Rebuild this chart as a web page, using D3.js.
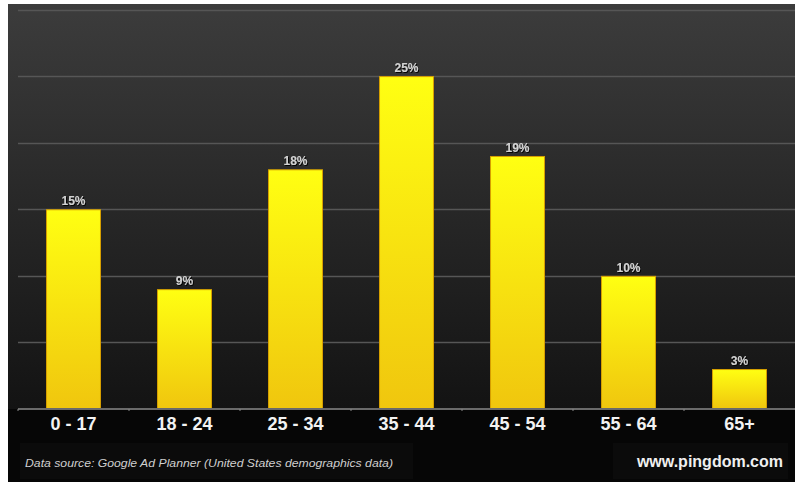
<!DOCTYPE html>
<html><head><meta charset="utf-8">
<script src="https://cdn.jsdelivr.net/npm/d3@7"></script>
<style>html,body{margin:0;padding:0;background:#fff;}svg{display:block;}</style>
</head><body>
<script>
const categories = ["0 - 17","18 - 24","25 - 34","35 - 44","45 - 54","55 - 64","65+"];
const values = [15, 9, 18, 25, 19, 10, 3];
const gridTicks = [0, 5, 10, 15, 20, 25, 30];
const sourceText = "Data source: Google Ad Planner (United States demographics data)";
const brandText = "www.pingdom.com";

const W = 795, H = 482;
const svg = d3.select("body").append("svg").attr("width", W).attr("height", H);
const defs = svg.append("defs");

const bg = defs.append("linearGradient").attr("id","bg").attr("x1",0).attr("y1",0).attr("x2",0).attr("y2",1);
bg.append("stop").attr("offset","0%").attr("stop-color","#3c3c3c");
bg.append("stop").attr("offset","100%").attr("stop-color","#131313");

const bar = defs.append("linearGradient").attr("id","bar").attr("x1",0).attr("y1",0).attr("x2",0).attr("y2",1);
bar.append("stop").attr("offset","0%").attr("stop-color","#ffff12");
bar.append("stop").attr("offset","100%").attr("stop-color","#f0c60e");

const sh = defs.append("filter").attr("id","sh").attr("x","-20%").attr("y","-20%").attr("width","140%").attr("height","140%");
sh.append("feDropShadow").attr("dx",1).attr("dy",1).attr("stdDeviation",0.6).attr("flood-color","#000").attr("flood-opacity",0.9);

const x = d3.scaleBand().domain(categories).range([18, 795]).paddingInner(0.505).paddingOuter(0.2525);
const y = d3.scaleLinear().domain([0, 30]).range([409, 9.5]);

// backgrounds
svg.append("rect").attr("x",8).attr("y",4).attr("width",W-8).attr("height",y(0)-4).attr("fill","url(#bg)");
svg.append("rect").attr("x",8).attr("y",y(0)).attr("width",W-8).attr("height",H-y(0)).attr("fill","#060606");
// footer panels
svg.append("rect").attr("x",20).attr("y",443).attr("width",393).attr("height",36).attr("fill","#0b0b0b");
svg.append("rect").attr("x",613).attr("y",443).attr("width",175).attr("height",36).attr("fill","#0b0b0b");

// gridlines
svg.append("g").selectAll("line").data(gridTicks.filter(d=>d>0)).join("line")
  .attr("x1",18).attr("x2",W).attr("y1",d=>Math.round(y(d))+0.5).attr("y2",d=>Math.round(y(d))+0.5)
  .attr("stroke","#565656").attr("stroke-width",1.5);

// bars
svg.append("g").selectAll("rect").data(values).join("rect")
  .attr("x",(d,i)=>x(categories[i])+0.5)
  .attr("y",d=>y(d)+0.5)
  .attr("width",x.bandwidth()-1)
  .attr("height",d=>y(0)-y(d)-1)
  .attr("fill","url(#bar)")
  .attr("stroke","#d8a000").attr("stroke-width",1);

// value labels
svg.append("g").selectAll("text").data(values).join("text")
  .attr("x",(d,i)=>x(categories[i])+x.bandwidth()/2)
  .attr("y",d=>y(d)-4)
  .attr("text-anchor","middle")
  .attr("font-family","Liberation Sans, Arial, sans-serif")
  .attr("font-weight","bold").attr("font-size",12)
  .attr("fill","#d2d2d2").attr("filter","url(#sh)")
  .text(d=>d+"%");

// axis baseline
const axis = d3.axisBottom(x).tickSize(0).tickPadding(0);
const ax = svg.append("g").attr("transform",`translate(0,${y(0)})`).call(axis);
ax.select(".domain").attr("stroke","#6a6a6a").attr("stroke-width",2).attr("d","M18,0H795");
ax.selectAll(".tick text")
  .attr("y",21).attr("dy",0)
  .attr("font-family","Liberation Sans, Arial, sans-serif")
  .attr("font-weight","bold").attr("font-size",18)
  .attr("fill","#f2f2f2");
// small tick marks at band boundaries
svg.append("g").selectAll("line").data(categories).join("line")
  .attr("x1",d=>x(d)-x.step()*x.paddingInner()/2).attr("x2",d=>x(d)-x.step()*x.paddingInner()/2)
  .attr("y1",y(0)).attr("y2",y(0)+2).attr("stroke","#888");

// footer texts
svg.append("text").attr("x",25).attr("y",467)
  .attr("font-family","Liberation Sans, Arial, sans-serif").attr("font-style","italic")
  .attr("font-size",11.5).attr("fill","#cfcfcf").attr("textLength",368).attr("lengthAdjust","spacingAndGlyphs")
  .text(sourceText);
svg.append("text").attr("x",783).attr("y",467).attr("text-anchor","end")
  .attr("font-family","Liberation Sans, Arial, sans-serif").attr("font-weight","bold")
  .attr("font-size",16).attr("fill","#f0f0f0")
  .text(brandText);
</script>
</body></html>
